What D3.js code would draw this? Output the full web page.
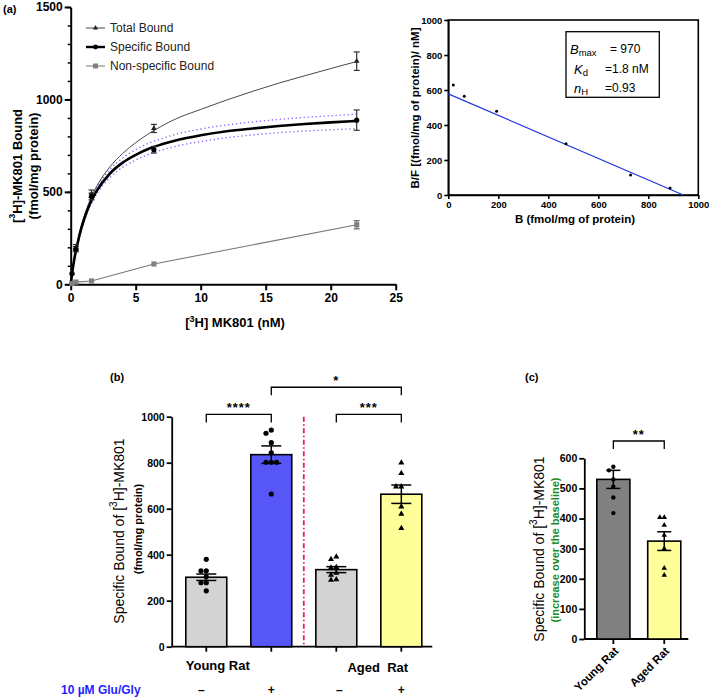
<!DOCTYPE html>
<html><head><meta charset="utf-8">
<script src="https://cdn.jsdelivr.net/npm/d3@7"></script>
<style>
body{margin:0;background:#fff}
svg{display:block}
text{font-family:"Liberation Sans",Arial,Helvetica,sans-serif}
</style>
</head><body>
<svg id="fig" width="709" height="699"></svg>
<script>
// ---------------- DATA ----------------
// Panel (a): saturation binding
const concNM = [0.1, 0.4, 1.6, 6.4, 22];
const totalBound = [62, 200, 490, 843, 1207];
const totalErr = [5, 15, 20, 22, 50];
const specificBound = [58, 190, 475, 728, 888];
const specificErr = [5, 14, 18, 18, 55];
const nonspecificBound = [4, 12, 18, 110, 322];
const nonspecificErr = [2, 3, 4, 6, 22];
// fitted curves
const fitConc = [0, 0.1, 0.25, 0.5, 0.75, 1, 1.5, 2, 3, 4, 5, 6, 7, 8, 10, 12, 14, 16, 18, 20, 22];
const totalFit = [0, 60, 130, 222, 300, 360, 458, 530, 634, 708, 766, 815, 856, 892, 946, 997, 1044, 1088, 1128, 1167, 1205];
const specificFit = [0, 55, 125, 212, 286, 345, 438, 505, 598, 658, 700, 733, 757, 777, 806, 828, 843, 856, 867, 876, 884];
const specificUpper = [0, 58, 130, 220, 296, 357, 452, 522, 620, 683, 728, 763, 788, 810, 840, 862, 878, 892, 903, 912, 920];
const specificLower = [0, 52, 120, 204, 276, 333, 424, 488, 576, 633, 672, 703, 726, 745, 772, 793, 808, 820, 829, 836, 842];
const legendLabels = ["Total Bound", "Specific Bound", "Non-specific Bound"];
const xTicksA = [0, 5, 10, 15, 20, 25];
const yTicksA = [0, 500, 1000, 1500];

// Panel (a) inset: Scatchard plot
const scatB = [20, 64, 193, 471, 729, 887];
const scatBF = [629, 564, 478, 293, 114, 40];
const scatLineB = [0, 940];
const scatLineBF = [578, 0];
const scatTicks = [0, 200, 400, 600, 800, 1000];
const scatParams = [["B", "max", "= 970"], ["K", "d", "=1.8 nM"], ["n", "H", "=0.93"]];

// Panel (b)
const bKeys = ["young-", "young+", "aged-", "aged+"];
const bMeans = [302, 835, 335, 663];
const bSem = [14, 38, 13, 40];
const bDots = [
  [380, 330, 330, 304, 278, 278, 243],
  [942, 928, 887, 843, 802, 802, 802, 664],
  [391, 380, 345, 343, 320, 312, 292, 290],
  [800, 754, 696, 696, 609, 577, 515]
];
const bTreatment = ["–", "+", "–", "+"];
const bGroupLabels = ["Young Rat", "Aged  Rat"];
const yTicksB = [0, 200, 400, 600, 800, 1000];
const bSig = [["****", 0, 1, 1010], ["***", 2, 3, 1010], ["*", 1, 3, 1128]];

// Panel (c)
const cCats = ["Young Rat", "Aged Rat"];
const cMeans = [530, 325];
const cSem = [30, 31];
const cDots = [
  [572, 560, 530, 506, 470, 418],
  [404, 404, 378, 345, 300, 235, 212]
];
const yTicksC = [0, 100, 200, 300, 400, 500, 600];

// ---------------- HELPERS ----------------
const svg = d3.select("#fig");
const tri = d3.symbol().type(d3.symbolTriangle);
const fmt = d3.format("d");

function styleAxis(g, fs, sw) {
  g.selectAll("path.domain").attr("stroke", "#000").attr("stroke-width", sw);
  g.selectAll(".tick line").attr("stroke", "#000").attr("stroke-width", sw);
  g.selectAll(".tick text").attr("font-size", fs).attr("font-weight", "bold")
    .attr("fill", "#000").attr("font-family", '"Liberation Sans",Arial,sans-serif');
}

function swarm(values, yS, cx, r, step) {
  const pts = values.map(v => ({v, y: yS(v)})).sort((a, b) => b.v - a.v);
  const placed = [];
  pts.forEach(p => {
    const cands = [0];
    for (let k = 1; k < 6; k++) cands.push(-k * step, k * step);
    for (const c of cands) {
      if (placed.every(q => Math.hypot(q.x - (cx + c), q.y - p.y) >= 2 * r - 0.2)) { p.x = cx + c; break; }
    }
    if (p.x === undefined) p.x = cx;
    placed.push(p);
  });
  return placed;
}

// ---------------- PANEL (a) ----------------
const ax = d3.scaleLinear().domain([0, 25]).range([70.7, 395.7]);
const ay = d3.scaleLinear().domain([0, 1500]).range([284.3, 7]);
const gA = svg.append("g");

gA.append("text").attr("x", 3).attr("y", 13).attr("font-size", 11).attr("font-weight", "bold").text("(a)");

// minor y ticks
gA.append("g").attr("transform", `translate(${ax(0)},0)`)
  .call(d3.axisLeft(ay).tickValues(d3.range(0, 1501, 100)).tickSize(3).tickFormat(""))
  .call(g => { g.select(".domain").remove(); g.selectAll("line").attr("stroke", "#000").attr("stroke-width", 1.5); });
gA.append("g").attr("transform", `translate(${ax(0)},0)`)
  .call(d3.axisLeft(ay).tickValues(yTicksA).tickFormat(fmt).tickSize(6).tickSizeOuter(0).tickPadding(2))
  .call(g => styleAxis(g, 12, 2));
gA.append("g").attr("transform", `translate(0,${ay(0)})`)
  .call(d3.axisBottom(ax).tickValues(xTicksA).tickFormat(fmt).tickSize(6).tickSizeOuter(0).tickPadding(3))
  .call(g => styleAxis(g, 12, 2));

// axis titles
const ylabA = gA.append("text").attr("transform", `translate(17,166) rotate(-90)`)
  .attr("text-anchor", "middle").attr("dominant-baseline", "central")
  .attr("font-size", 13).attr("font-weight", "bold");
ylabA.append("tspan").text("[");
ylabA.append("tspan").attr("baseline-shift", "super").attr("font-size", 9).text("3");
ylabA.append("tspan").text("H]-MK801 Bound");
gA.append("text").attr("transform", `translate(33,166) rotate(-90)`)
  .attr("text-anchor", "middle").attr("dominant-baseline", "central")
  .attr("font-size", 13).attr("font-weight", "bold").text("(fmol/mg protein)");
const xlabA = gA.append("text").attr("x", 235).attr("y", 327)
  .attr("text-anchor", "middle").attr("font-size", 13).attr("font-weight", "bold");
xlabA.append("tspan").text("[");
xlabA.append("tspan").attr("baseline-shift", "super").attr("font-size", 9).text("3");
xlabA.append("tspan").text("H] MK801 (nM)");

const lineA = d3.line().x(d => ax(d[0])).y(d => ay(d[1])).curve(d3.curveMonotoneX);
const zipFit = arr => fitConc.map((c, i) => [c, arr[i]]);

// CI bands
[specificUpper, specificLower].forEach(arr => {
  gA.append("path").attr("d", lineA(zipFit(arr))).attr("fill", "none")
    .attr("stroke", "#8f5cff").attr("stroke-width", 1.3).attr("stroke-dasharray", "1.3,2.7");
});
// total fit
gA.append("path").attr("d", lineA(zipFit(totalFit))).attr("fill", "none")
  .attr("stroke", "#333").attr("stroke-width", 0.9);
// nonspecific line through points
gA.append("path").attr("d", d3.line().x(d => ax(d[0])).y(d => ay(d[1]))([[0, 0]].concat(concNM.map((c, i) => [c, nonspecificBound[i]]))))
  .attr("fill", "none").attr("stroke", "#777").attr("stroke-width", 1.1);
// specific fit
gA.append("path").attr("d", lineA(zipFit(specificFit))).attr("fill", "none")
  .attr("stroke", "#000").attr("stroke-width", 2.6);

// error bars
function errBars(vals, errs, color) {
  concNM.forEach((c, i) => {
    const x = ax(c), y1 = ay(vals[i] + errs[i]), y2 = ay(vals[i] - errs[i]);
    if (Math.abs(y2 - y1) < 3) return;
    gA.append("line").attr("x1", x).attr("x2", x).attr("y1", y1).attr("y2", y2).attr("stroke", color).attr("stroke-width", 1.2);
    [y1, y2].forEach(yy => gA.append("line").attr("x1", x - 3).attr("x2", x + 3).attr("y1", yy).attr("y2", yy).attr("stroke", color).attr("stroke-width", 1.2));
  });
}
errBars(totalBound, totalErr, "#333");
errBars(specificBound, specificErr, "#333");
errBars(nonspecificBound, nonspecificErr, "#666");

// markers
gA.selectAll(".tot").data(concNM).join("path")
  .attr("transform", (c, i) => `translate(${ax(c)},${ay(totalBound[i])})`)
  .attr("d", tri.size(14)()).attr("fill", "#222");
gA.selectAll(".spec").data(concNM).join("circle")
  .attr("cx", c => ax(c)).attr("cy", (c, i) => ay(specificBound[i])).attr("r", 2.6).attr("fill", "#000");
gA.selectAll(".ns").data(concNM).join("rect")
  .attr("x", c => ax(c) - 2.6).attr("y", (c, i) => ay(nonspecificBound[i]) - 2.6)
  .attr("width", 5.2).attr("height", 5.2).attr("fill", "#808080");

// legend
const legStyles = [
  {stroke: "#333", w: 0.9, m: "tri"},
  {stroke: "#000", w: 2.4, m: "circle"},
  {stroke: "#808080", w: 1.1, m: "square"}
];
legendLabels.forEach((lab, i) => {
  const y = 28 + i * 19;
  const s = legStyles[i];
  gA.append("line").attr("x1", 86).attr("x2", 105).attr("y1", y).attr("y2", y).attr("stroke", s.stroke).attr("stroke-width", s.w);
  if (s.m === "tri") gA.append("path").attr("transform", `translate(95.5,${y})`).attr("d", tri.size(12)()).attr("fill", "#222");
  if (s.m === "circle") gA.append("circle").attr("cx", 95.5).attr("cy", y).attr("r", 2.4).attr("fill", "#000");
  if (s.m === "square") gA.append("rect").attr("x", 93).attr("y", y - 2.5).attr("width", 5).attr("height", 5).attr("fill", "#808080");
  gA.append("text").attr("x", 110).attr("y", y).attr("dominant-baseline", "central")
    .attr("font-size", 12).attr("fill", "#222").text(lab);
});

// ---------------- SCATCHARD INSET ----------------
const sx = d3.scaleLinear().domain([0, 1000]).range([448.3, 698.3]);
const sy = d3.scaleLinear().domain([0, 1000]).range([195, 20]);
const gS = svg.append("g");
gS.append("rect").attr("x", sx(0)).attr("y", sy(1000)).attr("width", sx(1000) - sx(0)).attr("height", sy(0) - sy(1000))
  .attr("fill", "none").attr("stroke", "#000").attr("stroke-width", 1.6);
gS.append("g").attr("transform", `translate(${sx(0)},0)`)
  .call(d3.axisLeft(sy).tickValues(scatTicks).tickFormat(fmt).tickSize(4).tickSizeOuter(0).tickPadding(2))
  .call(g => styleAxis(g, 9.5, 1.6));
gS.append("g").attr("transform", `translate(0,${sy(0)})`)
  .call(d3.axisBottom(sx).tickValues(scatTicks).tickFormat(fmt).tickSize(4).tickSizeOuter(0).tickPadding(2))
  .call(g => styleAxis(g, 9.5, 1.6));
gS.append("text").attr("transform", `translate(415,108) rotate(-90)`)
  .attr("text-anchor", "middle").attr("dominant-baseline", "central")
  .attr("font-size", 11.5).attr("font-weight", "bold").text("B/F [(fmol/mg of protein)/ nM]");
gS.append("text").attr("x", 575).attr("y", 223).attr("text-anchor", "middle")
  .attr("font-size", 11.5).attr("font-weight", "bold").text("B (fmol/mg of protein)");
gS.append("line").attr("x1", sx(scatLineB[0])).attr("x2", sx(scatLineB[1]))
  .attr("y1", sy(scatLineBF[0])).attr("y2", sy(scatLineBF[1])).attr("stroke", "#2233dd").attr("stroke-width", 1.2);
gS.selectAll(".sp").data(scatB).join("circle")
  .attr("cx", d => sx(d)).attr("cy", (d, i) => sy(scatBF[i])).attr("r", 1.5).attr("fill", "#000");
// parameter box
gS.append("rect").attr("x", 566).attr("y", 31.7).attr("width", 93.3).attr("height", 65.6)
  .attr("fill", "#fff").attr("stroke", "#000").attr("stroke-width", 1.3);
scatParams.forEach((p, i) => {
  const y = 49 + i * 19.7;
  const t = gS.append("text").attr("x", i === 0 ? 570 : 574).attr("y", y).attr("dominant-baseline", "central").attr("font-size", 13);
  t.append("tspan").attr("font-style", "italic").text(p[0]);
  t.append("tspan").attr("font-size", 9.5).attr("dy", 3).text(p[1]);
  gS.append("text").attr("x", i === 0 ? 610 : 605).attr("y", y).attr("dominant-baseline", "central").attr("font-size", 12).text(p[2]);
});

// ---------------- PANEL (b) ----------------
const bx = d3.scaleBand().domain(bKeys).range([185.8, 421.8]).paddingInner(0.37).paddingOuter(0);
const by = d3.scaleLinear().domain([0, 1000]).range([646.7, 416.7]);
const gB = svg.append("g");
const bFill = ["#d3d3d3", "#5757f8", "#d3d3d3", "#ffff99"];
const bc = k => bx(k) + bx.bandwidth() / 2;

gB.append("text").attr("x", 110).attr("y", 381).attr("font-size", 11).attr("font-weight", "bold").text("(b)");

gB.append("g").attr("transform", `translate(171.7,0)`)
  .call(d3.axisLeft(by).tickValues(yTicksB).tickFormat(fmt).tickSize(5).tickSizeOuter(0).tickPadding(2))
  .call(g => styleAxis(g, 10.5, 1.8));
// x axis line + ticks at bar centres
gB.append("line").attr("x1", 171.7).attr("x2", 432.3).attr("y1", by(0)).attr("y2", by(0)).attr("stroke", "#000").attr("stroke-width", 1.8);
bKeys.forEach(k => gB.append("line").attr("x1", bc(k)).attr("x2", bc(k)).attr("y1", by(0)).attr("y2", by(0) + 5).attr("stroke", "#000").attr("stroke-width", 1.8));

// bars
gB.selectAll(".bb").data(bKeys).join("rect")
  .attr("x", k => bx(k)).attr("y", (k, i) => by(bMeans[i]))
  .attr("width", bx.bandwidth()).attr("height", (k, i) => by(0) - by(bMeans[i]))
  .attr("fill", (k, i) => bFill[i]).attr("stroke", "#000").attr("stroke-width", 1.6);

// dots
bKeys.forEach((k, i) => {
  const pts = swarm(bDots[i], by, bc(k), 2.6, 5.3);
  pts.forEach(p => {
    if (i < 2) gB.append("circle").attr("cx", p.x).attr("cy", p.y).attr("r", 2.6).attr("fill", "#000");
    else gB.append("path").attr("transform", `translate(${p.x},${p.y})`).attr("d", tri.size(16)()).attr("fill", "#000");
  });
});
// error bars
bKeys.forEach((k, i) => {
  const x = bc(k), y1 = by(bMeans[i] + bSem[i]), y2 = by(bMeans[i] - bSem[i]);
  gB.append("line").attr("x1", x).attr("x2", x).attr("y1", y1).attr("y2", y2).attr("stroke", "#000").attr("stroke-width", 1.5);
  [y1, y2].forEach(yy => gB.append("line").attr("x1", x - 10).attr("x2", x + 10).attr("y1", yy).attr("y2", yy).attr("stroke", "#000").attr("stroke-width", 1.5));
});
// divider
const midX = (bc(bKeys[1]) + bc(bKeys[2])) / 2;
gB.append("line").attr("x1", midX).attr("x2", midX).attr("y1", by(1000)).attr("y2", by(0))
  .attr("stroke", "#e8196c").attr("stroke-width", 1.8).attr("stroke-dasharray", "5,2.5,1.5,2.5");
// significance brackets
bSig.forEach(s => {
  const x1 = bc(bKeys[s[1]]), x2 = bc(bKeys[s[2]]), y = by(s[3]);
  gB.append("path").attr("d", `M${x1},${y + 8}V${y}H${x2}V${y + 8}`).attr("fill", "none").attr("stroke", "#000").attr("stroke-width", 1.3);
  gB.append("text").attr("x", (x1 + x2) / 2).attr("y", y - 2).attr("text-anchor", "middle")
    .attr("font-size", 13).attr("font-weight", "bold").attr("letter-spacing", 1).text(s[0]);
});
// group labels
gB.append("text").attr("x", (bc(bKeys[0]) + bc(bKeys[1])) / 2 - 21).attr("y", 670).attr("text-anchor", "middle")
  .attr("font-size", 13).attr("font-weight", "bold").text(bGroupLabels[0]);
gB.append("text").attr("x", (bc(bKeys[2]) + bc(bKeys[3])) / 2 + 9).attr("y", 672).attr("text-anchor", "middle")
  .attr("font-size", 13).attr("font-weight", "bold").attr("xml:space", "preserve").style("white-space", "pre").text(bGroupLabels[1]);
gB.append("text").attr("x", 61).attr("y", 694).attr("font-size", 12).attr("font-weight", "bold")
  .attr("fill", "#1f1fff").text("10 µM Glu/Gly");
bKeys.forEach((k, i) => {
  gB.append("text").attr("x", bc(k) + (i === 0 ? -5 : (i === 2 ? 3 : 0))).attr("y", 694).attr("text-anchor", "middle")
    .attr("font-size", 12).attr("font-weight", "bold").text(bTreatment[i]);
});
// y title
const ylabB = gB.append("text").attr("transform", `translate(119,531) rotate(-90)`)
  .attr("text-anchor", "middle").attr("dominant-baseline", "central").attr("font-size", 14);
ylabB.append("tspan").text("Specific Bound of [");
ylabB.append("tspan").attr("baseline-shift", "super").attr("font-size", 10).text("3");
ylabB.append("tspan").text("H]-MK801");
gB.append("text").attr("transform", `translate(138,529) rotate(-90)`)
  .attr("text-anchor", "middle").attr("dominant-baseline", "central")
  .attr("font-size", 11).attr("font-weight", "bold").text("(fmol/mg protein)");

// ---------------- PANEL (c) ----------------
const cx = d3.scaleBand().domain(cCats).range([596.8, 680.8]).paddingInner(0.35).paddingOuter(0);
const cy = d3.scaleLinear().domain([0, 600]).range([639, 458.3]);
const gC = svg.append("g");
const cFill = ["#808080", "#ffff99"];
const cc = k => cx(k) + cx.bandwidth() / 2;

gC.append("text").attr("x", 525).attr("y", 381).attr("font-size", 11).attr("font-weight", "bold").text("(c)");
gC.append("g").attr("transform", `translate(584.3,0)`)
  .call(d3.axisLeft(cy).tickValues(yTicksC).tickFormat(fmt).tickSize(5).tickSizeOuter(0).tickPadding(2))
  .call(g => styleAxis(g, 10.5, 1.8));
gC.append("line").attr("x1", 584.3).attr("x2", 688.3).attr("y1", cy(0)).attr("y2", cy(0)).attr("stroke", "#000").attr("stroke-width", 1.8);
cCats.forEach(k => gC.append("line").attr("x1", cc(k)).attr("x2", cc(k)).attr("y1", cy(0)).attr("y2", cy(0) + 5).attr("stroke", "#000").attr("stroke-width", 1.8));
gC.selectAll(".cb").data(cCats).join("rect")
  .attr("x", k => cx(k)).attr("y", (k, i) => cy(cMeans[i]))
  .attr("width", cx.bandwidth()).attr("height", (k, i) => cy(0) - cy(cMeans[i]))
  .attr("fill", (k, i) => cFill[i]).attr("stroke", "#000").attr("stroke-width", 1.6);
cCats.forEach((k, i) => {
  const pts = swarm(cDots[i], cy, cc(k), 2.2, 4.4);
  pts.forEach(p => {
    if (i === 0) gC.append("circle").attr("cx", p.x).attr("cy", p.y).attr("r", 2.2).attr("fill", "#000");
    else gC.append("path").attr("transform", `translate(${p.x},${p.y})`).attr("d", tri.size(13)()).attr("fill", "#000");
  });
  const x = cc(k), y1 = cy(cMeans[i] + cSem[i]), y2 = cy(cMeans[i] - cSem[i]);
  gC.append("line").attr("x1", x).attr("x2", x).attr("y1", y1).attr("y2", y2).attr("stroke", "#000").attr("stroke-width", 1.5);
  [y1, y2].forEach(yy => gC.append("line").attr("x1", x - 7).attr("x2", x + 7).attr("y1", yy).attr("y2", yy).attr("stroke", "#000").attr("stroke-width", 1.5));
  gC.append("text").attr("transform", `translate(${x + 3},${cy(0) + 10}) rotate(-45)`)
    .attr("text-anchor", "end").attr("dominant-baseline", "central")
    .attr("font-size", 11.5).attr("font-weight", "bold").text(k);
});
// significance
{
  const x1 = cc(cCats[0]), x2 = cc(cCats[1]), y = 441;
  gC.append("path").attr("d", `M${x1},${y + 8}V${y}H${x2}V${y + 8}`).attr("fill", "none").attr("stroke", "#000").attr("stroke-width", 1.3);
  gC.append("text").attr("x", (x1 + x2) / 2).attr("y", y - 2).attr("text-anchor", "middle")
    .attr("font-size", 13).attr("font-weight", "bold").attr("letter-spacing", 1).text("**");
}
const ylabC = gC.append("text").attr("transform", `translate(539,549) rotate(-90)`)
  .attr("text-anchor", "middle").attr("dominant-baseline", "central").attr("font-size", 14);
ylabC.append("tspan").text("Specific Bound of [");
ylabC.append("tspan").attr("baseline-shift", "super").attr("font-size", 10).text("3");
ylabC.append("tspan").text("H]-MK801");
gC.append("text").attr("transform", `translate(555,550) rotate(-90)`)
  .attr("text-anchor", "middle").attr("dominant-baseline", "central")
  .attr("font-size", 11).attr("font-weight", "bold").attr("fill", "#1a8a1a").text("(increase over the baseline)");
</script>
</body></html>
